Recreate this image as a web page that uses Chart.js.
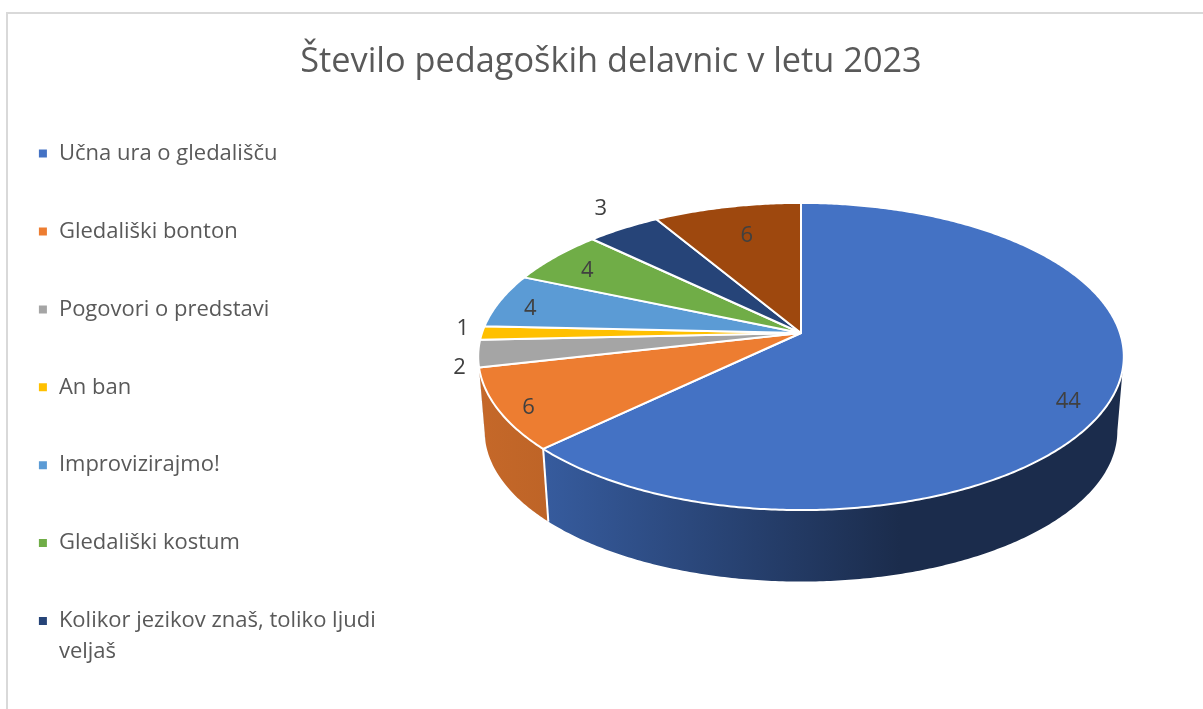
<!DOCTYPE html>
<html>
<head>
<meta charset="utf-8">
<title>Število pedagoških delavnic v letu 2023</title>
<script src="https://cdn.jsdelivr.net/npm/chart.js@4"></script>
<style>
  html, body { margin: 0; padding: 0; width: 1203px; height: 709px; overflow: hidden; background: #fff; }
  #frame { position: absolute; left: 6px; top: 12px; width: 1300px; height: 800px; border-left: 2px solid #d9d9d9; border-top: 2px solid #d9d9d9; }
  #chart { position: absolute; left: 0; top: 0; }
</style>
</head>
<body>
<div id="frame"></div>
<canvas id="chart" width="1240" height="780"></canvas>
<script>
const categories = ['Učna ura o gledališču', 'Gledališki bonton', 'Pogovori o predstavi', 'An ban', 'Improvizirajmo!', 'Gledališki kostum', ['Kolikor jezikov znaš, toliko ljudi', 'veljaš'], ''];
const values = [44, 6, 2, 1, 4, 4, 3, 6];
const colors = ['#4472C4', '#ED7D31', '#A5A5A5', '#FFC000', '#5B9BD5', '#70AD47', '#264478', '#9E480E'];

// tilted disc: where the apex sits, how wide, how strong the perspective
const disc = { cx: 801, cy: 333, rx: 319, ry: 150, persp: 0.153, depth: 75, shrink: 0.98 };

// data label placement: reach along the slice middle, then a small nudge
const labelReach = [0.87, 0.9, 1.06, 1.06, 0.87, 0.87, 1.17, 0.75];
const labelNudge = [[-2, 15], [-2, 6], [1, 13], [0, -4], [-8, 4], [2, 5], [4, -4], [3, 0]];

function project(angle, level, reach) {
  const r = reach === undefined ? 1 : reach;
  const u = Math.cos(angle) * r, v = Math.sin(angle) * r;
  const w = 1 - disc.persp * v;
  let x = disc.rx * u / w, y = disc.ry * v / w;
  if (level === 1) {
    x *= disc.shrink;
    y = y * disc.shrink + disc.depth;
  }
  return [disc.cx + x, disc.cy + y];
}

function shade(hex, f) {
  const n = parseInt(hex.slice(1), 16);
  return 'rgb(' + Math.round((n >> 16) * f) + ',' + Math.round(((n >> 8) & 255) * f) + ',' + Math.round((n & 255) * f) + ')';
}

function traceArc(ctx, from, to, level, first) {
  const steps = Math.max(2, Math.ceil(Math.abs(to - from) / 0.01));
  for (let i = 0; i <= steps; i++) {
    const p = project(from + (to - from) * i / steps, level);
    if (i === 0 && first) ctx.moveTo(p[0], p[1]);
    else ctx.lineTo(p[0], p[1]);
  }
}

const pie3d = {
  id: 'pie3d',
  beforeDatasetDraw(chart) {
    const ctx = chart.ctx;
    const arcs = chart.getDatasetMeta(0).data;
    const a0 = Math.asin(disc.persp), a1 = Math.PI - a0;

    ctx.save();
    // sides first, only the part turned towards us
    arcs.forEach((arc, i) => {
      const from = Math.max(arc.startAngle, a0), to = Math.min(arc.endAngle, a1);
      if (to <= from) return;
      const g = ctx.createLinearGradient(480, 0, 900, 0);
      g.addColorStop(0, shade(colors[i], 0.83));
      g.addColorStop(0.16, shade(colors[i], 0.8));
      g.addColorStop(1, shade(colors[i], 0.39));
      ctx.beginPath();
      traceArc(ctx, from, to, 0, true);
      traceArc(ctx, to, from, 1, false);
      ctx.closePath();
      ctx.fillStyle = g;
      ctx.fill();
    });
    // seams between the sides
    arcs.forEach(arc => {
      if (arc.endAngle <= a0 || arc.endAngle >= a1 || Math.sin(arc.endAngle) < 0.3) return;
      const top = project(arc.endAngle, 0), bottom = project(arc.endAngle, 1);
      ctx.beginPath();
      ctx.moveTo(top[0], top[1]);
      ctx.lineTo(bottom[0], bottom[1]);
      ctx.strokeStyle = '#fff';
      ctx.lineWidth = 2;
      ctx.stroke();
    });
    // top face
    arcs.forEach((arc, i) => {
      ctx.beginPath();
      ctx.moveTo(disc.cx, disc.cy);
      traceArc(ctx, arc.startAngle, arc.endAngle, 0, false);
      ctx.closePath();
      ctx.fillStyle = colors[i];
      ctx.fill();
      ctx.strokeStyle = '#fff';
      ctx.lineWidth = 2;
      ctx.lineJoin = 'round';
      ctx.stroke();
    });
    // data labels
    ctx.font = '22px "Open Sans"';
    ctx.fillStyle = '#404040';
    ctx.textAlign = 'center';
    ctx.textBaseline = 'middle';
    arcs.forEach((arc, i) => {
      const p = project((arc.startAngle + arc.endAngle) / 2, 0, labelReach[i]);
      ctx.fillText(String(values[i]), p[0] + labelNudge[i][0], p[1] + labelNudge[i][1]);
    });
    ctx.restore();
    return false;
  }
};

new Chart(document.getElementById('chart'), {
  type: 'pie',
  data: {
    labels: categories,
    datasets: [{ data: values, backgroundColor: colors, borderColor: '#fff', borderWidth: 2 }]
  },
  options: {
    responsive: false,
    animation: false,
    layout: { padding: { left: -18 } },
    plugins: {
      tooltip: { enabled: false },
      title: {
        display: true,
        text: 'Število pedagoških delavnic v letu 2023',
        color: '#595959',
        font: { family: '"Open Sans"', size: 34.3, weight: 'normal' },
        padding: { top: 42, bottom: 10 }
      },
      legend: {
        position: 'left',
        align: 'start',
        title: { display: true, text: ' ', font: { size: 1 }, padding: { top: 85.5, bottom: 0 } },
        labels: {
          color: '#595959',
          font: { family: '"Open Sans"', size: 22, lineHeight: 1.4 },
          boxWidth: 10,
          boxHeight: 10,
          padding: 55.9,
          filter: item => item.text !== ''
        }
      }
    }
  },
  plugins: [pie3d]
});
</script>
</body>
</html>
